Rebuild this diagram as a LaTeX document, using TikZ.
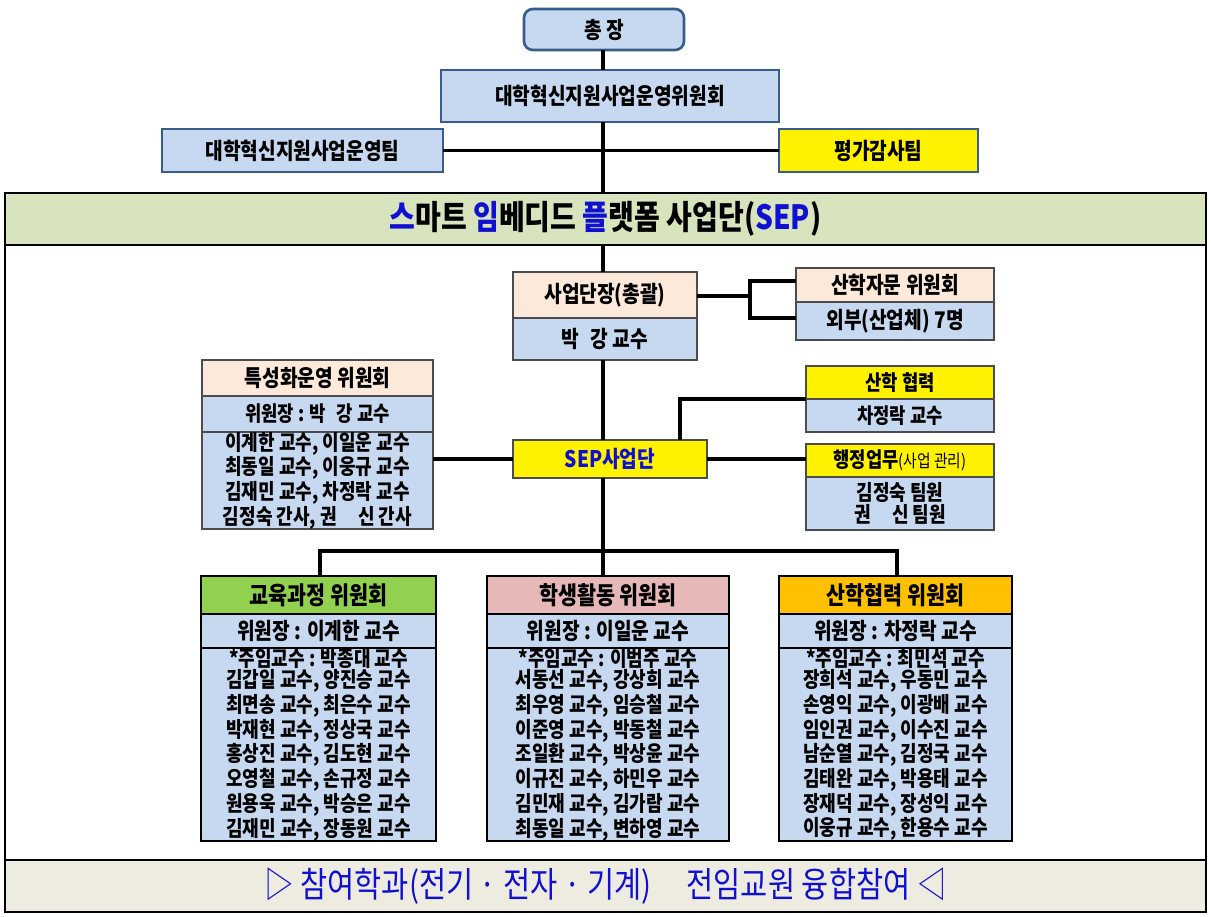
\documentclass[tikz,border=0pt]{standalone}
\usepackage{fontspec}
\setmainfont{Noto Sans CJK KR}[FakeStretch=0.84]
\begin{document}
\begin{tikzpicture}[x=0.02cm,y=-0.02cm,
  bx/.style 2 args={anchor=north west,inner sep=0pt,outer sep=0pt,draw=#2,line width=1pt,
     minimum width=#1,align=center,font=\bfseries\fontsize{13}{15}\selectfont},
  wh/.style 2 args={minimum width=#1*0.02cm,minimum height=#2*0.02cm},
  lst/.style={font=\fontsize{12.2}{12.2}\selectfont\bfseries},
  sm/.style={font=\bfseries\fontsize{12}{13}\selectfont},
  ln/.style={line width=2.2pt},
]
\definecolor{lblue}{HTML}{C6D9F0}
\definecolor{peach}{HTML}{FDE9D9}
\definecolor{olivebg}{HTML}{D7E4BD}
\definecolor{footbg}{HTML}{EEECE1}
\definecolor{bluebd}{HTML}{385D8A}
\definecolor{txtblue}{HTML}{1010D0}
\definecolor{cgreen}{HTML}{92D050}
\definecolor{cpink}{HTML}{E6B9B8}
\definecolor{corange}{HTML}{FFC000}
\useasboundingbox (0,0) rectangle (1212,916);
\fill[white] (0,0) rectangle (1212,916);
% outer frame
\node[bx={}{black},wh={1201}{52},fill=olivebg,line width=1.6pt,font=\bfseries\fontsize{19}{22}\selectfont] (title) at (5,193)
 {\textcolor{txtblue}{스}마트 \textcolor{txtblue}{임}베디드 \textcolor{txtblue}{플}랫폼 사업단(\textcolor{txtblue}{SEP})};
\node[bx={}{black},wh={1201}{52},fill=footbg,line width=1.6pt,font=\fontsize{20}{22}\selectfont,text=txtblue] (foot) at (5,860)
 {▷ 참여학과(전기 · 전자 · 기계)\quad 전임교원 융합참여 ◁};
\draw[line width=1.6pt] (5,245) -- (5,860) (1206,245) -- (1206,860);
% top
\node[bx={}{bluebd},wh={160}{41},fill=lblue,rounded corners=5pt,line width=1.5pt] (pres) at (524,9) {총 장};
\node[bx={}{bluebd},wh={338}{52},fill=lblue,line width=1.5pt] (comm) at (441,70) {대학혁신지원사업운영위원회};
\node[bx={}{bluebd},wh={281}{43},fill=lblue,line width=1.5pt] (team) at (162,129) {대학혁신지원사업운영팀};
\node[bx={}{bluebd},wh={199}{43},fill=yellow,line width=1.5pt] (audit) at (779,129) {평가감사팀};
% head
\node[bx={}{black!70},wh={184}{46},fill=peach] (head) at (513,272) {사업단장(총괄)};
\node[bx={}{black!70},wh={184}{42},fill=lblue] (headn) at (513,318) {박\enspace 강 교수};
\node[bx={}{black!70},wh={198}{34},fill=peach] (adv) at (796,268) {산학자문 위원회};
\node[bx={}{black!70},wh={198}{38},fill=lblue] (advn) at (796,302) {외부(산업체) 7명};
% specialization
\node[bx={}{black!70},wh={231}{36},fill=peach] (spec) at (202,360) {특성화운영 위원회};
\node[bx={}{black!70},wh={231}{36},fill=lblue,sm] (specc) at (202,396) {위원장 : 박\enspace 강 교수};
\node[bx={}{black!70},wh={231}{96},fill=lblue,lst] (specl) at (202,432) {이계한 교수, 이일운 교수\\최동일 교수, 이웅규 교수\\김재민 교수, 차정락 교수\\김정숙 간사, 권\quad 신 간사};
% SEP
\node[bx={}{black!70},wh={194}{38},fill=yellow,text=txtblue] (sep) at (513,440) {SEP사업단};
\node[bx={}{black!70},wh={188}{33},fill=yellow,sm] (coop) at (806,366) {산학 협력};
\node[bx={}{black!70},wh={188}{33},fill=lblue,sm] (coopn) at (806,399) {차정락 교수};
\node[bx={}{black!70},wh={188}{33},fill=yellow,sm] (adm) at (806,444) {행정업무{\fontsize{10}{11}\selectfont\mdseries(사업 관리)}};
\node[bx={}{black!70},wh={188}{53},fill=lblue,lst] (admn) at (806,477) {김정숙 팀원\\권\quad 신 팀원};
% committees
\foreach \n/\x/\w/\c/\t/\h/\l in {
 edu/201/235/cgreen/교육과정 위원회/이계한/{*주임교수 : 박종대 교수\\김갑일 교수, 양진승 교수\\최면송 교수, 최은수 교수\\박재현 교수, 정상국 교수\\홍상진 교수, 김도현 교수\\오영철 교수, 손규정 교수\\원용욱 교수, 박승은 교수\\김재민 교수, 장동원 교수},
 stu/487/242/cpink/학생활동 위원회/이일운/{*주임교수 : 이범주 교수\\서동선 교수, 강상희 교수\\최우영 교수, 임승철 교수\\이준영 교수, 박동철 교수\\조일환 교수, 박상윤 교수\\이규진 교수, 하민우 교수\\김민재 교수, 김가람 교수\\최동일 교수, 변하영 교수},
 ind/779/233/corange/산학협력 위원회/차정락/{*주임교수 : 최민석 교수\\장희석 교수, 우동민 교수\\손영익 교수, 이광배 교수\\임인권 교수, 이수진 교수\\남순열 교수, 김정국 교수\\김태완 교수, 박용태 교수\\장재덕 교수, 장성익 교수\\이웅규 교수, 한용수 교수}}{
 \node[bx={}{black},wh={\w}{38},fill=\c,font=\bfseries\fontsize{14}{15}\selectfont] (\n) at (\x,576) {\t};
 \node[bx={}{black},wh={\w}{34},fill=lblue] (\n c) at (\x,614) {위원장 : \h\ 교수};
 \node[bx={}{black},wh={\w}{182},fill=lblue,lst] (\n l) at (\x,648) {\l};
}
% connectors
\coordinate (trunk) at (603,0);
\draw[ln] (pres.south -| trunk) -- (comm.north -| trunk);
\draw[ln] (comm.south -| trunk) -- (title.north -| trunk);
\draw[ln] (team.east) -- (audit.west);
\draw[ln] (title.south -| trunk) -- (head.north -| trunk);
\draw[ln] (headn.south -| trunk) -- (sep.north -| trunk);
\coordinate (br) at (750,296);
\draw[ln] (head.east |- br) -- (br);
\draw[ln] (adv.west |- 0,281) -| (br) |- (advn.west |- 0,318);
\draw[ln] (specl.east |- sep.west) -- (sep.west);
\draw[ln] (sep.east) -- (adm.west |- sep.east);
\draw[ln] (sep.north -| 680,0) |- (coopn.north west);
\coordinate (bus) at (603,551);
\draw[ln] (sep.south -| trunk) -- (stu.north -| trunk);
\draw[ln] (edu.north -| 320,0) |- (bus) -| (ind.north -| 897,0);
\end{tikzpicture}
\end{document}
